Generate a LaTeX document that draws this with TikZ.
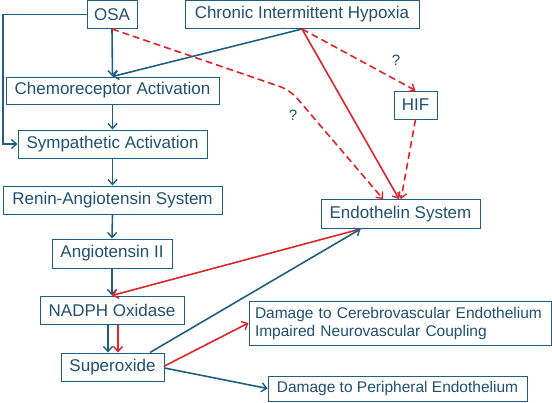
\documentclass[tikz,border=0pt]{standalone}
\usepackage{fontspec}
\setmainfont{Liberation Sans}
\usetikzlibrary{arrows.meta,calc}
\definecolor{bblue}{HTML}{1F5F80}
\definecolor{tblue}{HTML}{1F5070}
\definecolor{rred}{HTML}{E0242A}
\tikzset{
  box/.style={draw=bblue, line width=1pt, text=tblue, inner sep=0pt, font=\fontsize{17}{20}\selectfont},
  sbox/.style={draw=bblue, line width=1pt, text=tblue, inner sep=0pt, font=\fontsize{15.5}{18}\selectfont},
  barr/.style={draw=bblue, line width=1.6pt, -{Straight Barb[length=5pt,width=9pt,line width=1.4pt]}},
  rarr/.style={draw=rred, line width=1.6pt, -{Straight Barb[length=5pt,width=9pt,line width=1.4pt]}},
  rdash/.style={rarr, dash pattern=on 7pt off 4pt},
  qlab/.style={text=tblue, font=\fontsize{15}{18}\selectfont, inner sep=0pt}
}
\begin{document}
\begin{tikzpicture}[x=1pt,y=-1pt]
\useasboundingbox (0,0) rectangle (552,402);
\node[box, minimum width=50pt, minimum height=28pt] (osa) at (112,14.5) {OSA};
\node[box, minimum width=234pt, minimum height=28pt] (cih) at (302,14.5) {Chronic Intermittent Hypoxia};
\node[box, minimum width=213pt, minimum height=27pt] (chemo) at (112.5,90.5) {Chemoreceptor Activation};
\node[box, minimum width=189pt, minimum height=28pt] (symp) at (112.5,144) {Sympathetic Activation};
\node[box, minimum width=219pt, minimum height=28pt] (ras) at (112.5,200) {Renin-Angiotensin System};
\node[box, minimum width=120pt, minimum height=29pt] (ang) at (112,253.5) {Angiotensin II};
\node[box, minimum width=144pt, minimum height=28pt] (nadph) at (112,310) {NADPH Oxidase};
\node[box, minimum width=103pt, minimum height=28pt] (sup) at (112.5,367) {Superoxide};
\node[box, minimum width=159pt, minimum height=29pt] (endo) at (400.5,214) {Endothelin System};
\node[box, minimum width=43pt, minimum height=28pt] (hif) at (415.5,105) {HIF};
\node[sbox, minimum width=302pt, minimum height=44pt, align=left, text width=290pt] (cereb) at (400,323)
  {Damage to Cerebrovascular Endothelium\\Impaired Neurovascular Coupling};
\node[sbox, minimum width=259pt, minimum height=25pt] (peri) at (397.5,388.5) {Damage to Peripheral Endothelium};
\node[qlab] (q1) at (396,60) {?};
\node[qlab] (q2) at (293,115) {?};
\coordinate (corner) at (3,144);
\coordinate (bend) at (290,90);
% blue chain
\draw[barr] (osa.south) -- (chemo.north);
\draw[barr] (osa.west) -| (corner) -- (symp.west);
\draw[barr] (cih.south) -- (chemo.north);
\draw[barr] (chemo.south) -- (symp.north);
\draw[barr] (symp.south) -- (ras.north);
\draw[barr] (ras.south) -- (ang.north);
\draw[barr] (ang.south) -- (nadph.north);
\draw[barr] ($(nadph.south)+(-4,0)$) -- ($(sup.north)+(-4.5,0)$);
\draw[rarr] ($(nadph.south)+(6,0)$) -- ($(sup.north)+(5.5,0)$);
% red links to endothelin
\draw[rdash, rounded corners=10pt] (osa.south) -- (bend) -- ($(endo.north)+(-17.5,0)$);
\draw[rarr] (cih.south) -- ($(endo.north)+(-1.5,0)$);
\draw[rdash] (cih.south) -- (hif.north);
\draw[rdash] (hif.south) -- ($(endo.north)+(0.5,0)$);
\draw[rarr] ($(endo.south)+(-40,0)$) -- (nadph.north);
\draw[barr] ($(sup.north)+(37.5,0)$) -- ($(endo.south)+(-40,0)$);
% superoxide outputs
\draw[rarr] ($(sup.east)+(0,-1)$) -- (cereb.west);
\draw[barr] ($(sup.east)+(0,1)$) -- (peri.west);
\end{tikzpicture}
\end{document}
